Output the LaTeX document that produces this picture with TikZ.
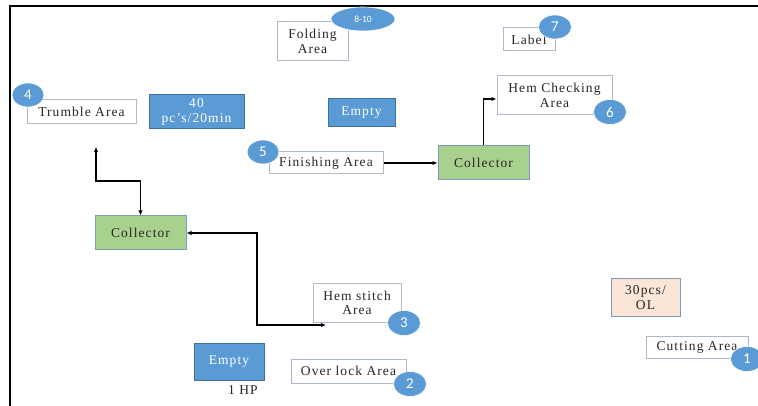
\documentclass[tikz,border=0pt]{standalone}
\usepackage{fontspec}
\setmainfont{Liberation Serif}[LetterSpace=8]
\newfontfamily\numfont{Carlito}
\usetikzlibrary{arrows.meta,calc,shapes.geometric}
\definecolor{accent}{HTML}{5B9BD5}
\definecolor{accentdark}{HTML}{41719C}
\definecolor{leaf}{HTML}{A9D18E}
\definecolor{peach}{HTML}{FBE5D6}
\definecolor{frameline}{HTML}{ADB9CA}
\tikzset{
  area/.style={draw=frameline, line width=1pt, fill=white, inner sep=0pt,
    align=center, font=\fontsize{13.5}{14.5}\selectfont, text=black!85},
  bluebox/.style={area, draw=accentdark, fill=accent, text=white},
  greenbox/.style={area, draw=accentdark!70, fill=leaf},
  peachbox/.style={area, draw=accentdark!70, fill=peach},
  badge/.style={ellipse, fill=accent, draw=white, line width=0.6pt, inner sep=0pt,
    text=white, font=\numfont\fontsize{15}{15}\selectfont},
  flow/.style={line width=1.4pt, -{Latex[length=5pt,width=4.5pt]}},
  twoway/.style={line width=1.4pt, {Latex[length=5pt,width=4.5pt]}-{Latex[length=5pt,width=4.5pt]}}
}
\begin{document}
\begin{tikzpicture}[x=1pt,y=-1pt]
\useasboundingbox (0,0) rectangle (758,406);
\fill[white] (0,0) rectangle (758,406);
% outer frame (top and left edges)
\draw[line width=2.5pt] (10,406) -- (10,6) -- (758,6);

% top row
\node[area, minimum width=71, minimum height=39] (fold) at (312.5,41.5) {Folding\\Area};
\node[badge, minimum width=64, minimum height=24, font=\numfont\fontsize{9.5}{9.5}\selectfont] (e810) at (363,19) {8-10};
\node[area, minimum width=52, minimum height=23] (label) at (529,39.5) {Label};
\node[badge, minimum width=33, minimum height=24] (c7) at (555,27) {7};

\node[area, minimum width=109, minimum height=24] (trum) at (81.5,112) {Trumble Area};
\node[badge, minimum width=32, minimum height=24] (c4) at (28,95) {4};
\node[bluebox, minimum width=95, minimum height=34] (rate) at (196.5,112) {40\\pc’s/20min};
\node[bluebox, minimum width=67, minimum height=28] (empty1) at (361.5,113) {Empty};

\node[area, minimum width=115, minimum height=39] (hemc) at (554.5,95.5) {Hem Checking\\Area};
\node[badge, minimum width=33, minimum height=25] (c6) at (610,112) {6};

\node[area, minimum width=114, minimum height=22] (fin) at (326,163) {Finishing Area};
\node[badge, minimum width=32, minimum height=24] (c5) at (263,152) {5};
\node[greenbox, minimum width=91, minimum height=34] (col2) at (483.5,163) {Collector};

% middle and bottom rows
\node[greenbox, minimum width=91, minimum height=34] (col1) at (140.5,233) {Collector};
\node[area, minimum width=88, minimum height=38] (hems) at (357,303) {Hem stitch\\Area};
\node[badge, minimum width=33, minimum height=25] (c3) at (404,323) {3};

\node[bluebox, minimum width=70, minimum height=37] (empty2) at (229,361.5) {Empty};
\node[font=\fontsize{13.5}{14.5}\selectfont, text=black!85] (hp) at (243,390) {1 HP};
\node[area, minimum width=115, minimum height=24] (over) at (348.5,371) {Over lock Area};
\node[badge, minimum width=33, minimum height=25] (c2) at (410,384) {2};

\node[peachbox, minimum width=69, minimum height=37] (ol) at (645.5,297.5) {30pcs/\\OL};
\node[area, minimum width=102, minimum height=22] (cut) at (697,347) {Cutting Area};
\node[badge, minimum width=33, minimum height=25] (c1) at (747,359) {1};

% connectors
\draw[flow] (fin) -- (col2);
\draw[flow] (col2.north) |- ($(hemc.west)+(0,3.5)$);

\coordinate (t4) at (96,147);
\coordinate (k1) at (96,181);
\draw[twoway] (t4) -- (k1) -| (col1.north);

\coordinate (k2) at (257,233);
\coordinate (h3) at (326,325);
\draw[twoway] (col1.east) -- (k2) |- (h3);
\end{tikzpicture}
\end{document}
